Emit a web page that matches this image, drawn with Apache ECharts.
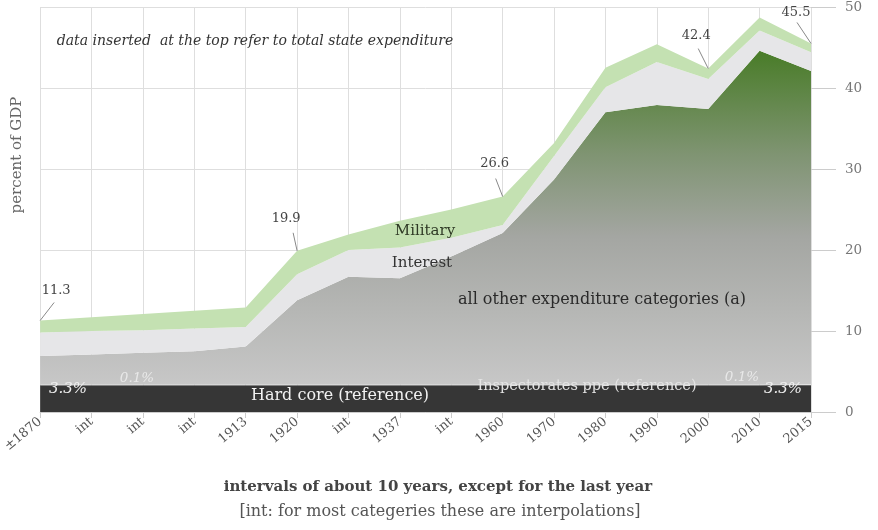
<!DOCTYPE html>
<html><head><meta charset="utf-8">
<script src="https://cdn.jsdelivr.net/npm/echarts@6/dist/echarts.min.js"></script>
<style>html,body{margin:0;padding:0;background:#fff}#c{width:878px;height:530px}</style>
</head><body><div id="c"></div>
<script>
const categories = ['±1870','int','int','int','1913','1920','int','1937','int','1960','1970','1980','1990','2000','2010','2015'];
const hardCore     = [3.3,3.3,3.3,3.3,3.3,3.3,3.3,3.3,3.3,3.3,3.3,3.3,3.3,3.3,3.3,3.3];
const inspectorates= [0.1,0.1,0.1,0.1,0.1,0.1,0.1,0.1,0.1,0.1,0.1,0.1,0.1,0.1,0.1,0.1];
const allOther     = [3.5,3.7,3.9,4.1,4.7,10.4,13.3,13.1,15.8,18.7,25.3,33.6,34.5,34.0,41.2,38.7];
const interest     = [2.9,2.9,2.8,2.8,2.4,3.2,3.3,3.8,2.3,1.0,2.9,3.1,5.3,3.7,2.5,2.3];
const military     = [1.5,1.7,2.0,2.2,2.4,2.9,1.9,3.3,3.5,3.5,1.6,2.4,2.2,1.3,1.6,1.1];
const totalLabels  = [{i:0,t:'11.3'},{i:5,t:'19.9'},{i:9,t:'26.6'},{i:13,t:'42.4'},{i:15,t:'45.5'}];
const yTicks = [0,10,20,30,40,50];

const FONT = '"DejaVu Serif"';
const chart = echarts.init(document.getElementById('c'));
function area(name, data, color){
  return {name, type:'line', stack:'s', data, symbol:'none', smooth:false,
    lineStyle:{width:0}, areaStyle:{color, opacity:1}, z:2};
}
const grad = {type:'linear', global:true, x:0, y:55, x2:0, y2:385,
  colorStops:[{offset:0,color:'#4b7d2b'},{offset:0.3,color:'#7f9472'},{offset:0.55,color:'#a4a6a2'},{offset:1,color:'#c7c7c7'}]};
chart.setOption({
  animation:false,
  grid:{left:39, right:67, top:7, bottom:118},
  xAxis:{type:'category', data:categories, boundaryGap:false,
    axisLine:{lineStyle:{color:'#cccccc'}},
    axisTick:{show:true, alignWithLabel:true, length:6, lineStyle:{color:'#cccccc'}},
    splitLine:{show:true, lineStyle:{color:'#dedede'}},
    axisLabel:{rotate:40, fontFamily:'DejaVu Serif', fontSize:13, color:'#555', margin:8, interval:0}},
  yAxis:{type:'value', position:'right', min:0, max:50, interval:10,
    axisLine:{show:false},
    axisTick:{show:true, length:25, inside:false, lineStyle:{color:'#cccccc'}},
    splitLine:{show:true, lineStyle:{color:'#dedede'}},
    axisLabel:{fontFamily:'DejaVu Serif', fontSize:13.5, color:'#777', margin:34,
      formatter:v=> yTicks.includes(v)? String(v):''}},
  series:[
    area('Hard core (reference)', hardCore, '#363636'),
    area('Inspectorates ppe (reference)', inspectorates, '#cfcfcf'),
    area('all other expenditure categories (a)', allOther, grad),
    area('Interest', interest, '#e6e6e8'),
    area('Military', military, '#c4e1b2')
  ]
});

function px(i, v){ return chart.convertToPixel({xAxisIndex:0,yAxisIndex:0},[i,v]); }
const totals = categories.map((_,i)=>hardCore[i]+inspectorates[i]+allOther[i]+interest[i]+military[i]);
const g = [];
const offs = {0:[16,-30,14,-18], 5:[-11,-32,-4,-18], 9:[-8,-33,-7,-18], 13:[-12,-33,-10,-20], 15:[-15,-31,-14,-21]};
totalLabels.forEach(a=>{
  const p = px(a.i, totals[a.i]);
  const o = offs[a.i];
  g.push({type:'text', x:p[0]+o[0], y:p[1]+o[1], style:{text:a.t, fill:'#444', font:'13px '+FONT, textAlign:'center', textVerticalAlign:'middle'}, z:10});
  g.push({type:'line', shape:{x1:p[0]+o[2], y1:p[1]+o[3], x2:p[0], y2:p[1]}, style:{stroke:'#888', lineWidth:1}, z:10});
});
const T = (x,y,text,font,fill,extra)=>Object.assign({type:'text', x, y, style:{text, font, fill, textAlign:'center', textVerticalAlign:'middle'}, z:10}, extra||{});
g.push(T(255,41,'data inserted  at the top refer to total state expenditure','italic 14px '+FONT,'#333'));
g.push(Object.assign(T(17,155,'percent of GDP','15px '+FONT,'#666'),{rotation:Math.PI/2}));
g.push(T(425,231,'Military','15px '+FONT,'#2f3a25'));
g.push(T(422,263,'Interest','15px '+FONT,'#333'));
g.push(T(602,300,'all other expenditure categories (a)','16px '+FONT,'#2a2a2a'));
g.push(T(340,396,'Hard core (reference)','16px '+FONT,'#f2f2f2'));
g.push(T(587,386,'Inspectorates ppe (reference)','14.5px '+FONT,'#e4e4e4'));
g.push(T(68,389,'3.3%','italic 15px '+FONT,'#eeeeee'));
g.push(T(783,389,'3.3%','italic 15px '+FONT,'#eeeeee'));
g.push(T(137,378,'0.1%','italic 13.5px '+FONT,'#e8e8e8'));
g.push(T(742,377,'0.1%','italic 13.5px '+FONT,'#e8e8e8'));
g.push(T(438,487,'intervals of about 10 years, except for the last year','bold 15px '+FONT,'#444'));
g.push(T(440,512,'[int: for most categeries these are interpolations]','16px '+FONT,'#555'));
chart.setOption({graphic:g});
</script></body></html>
